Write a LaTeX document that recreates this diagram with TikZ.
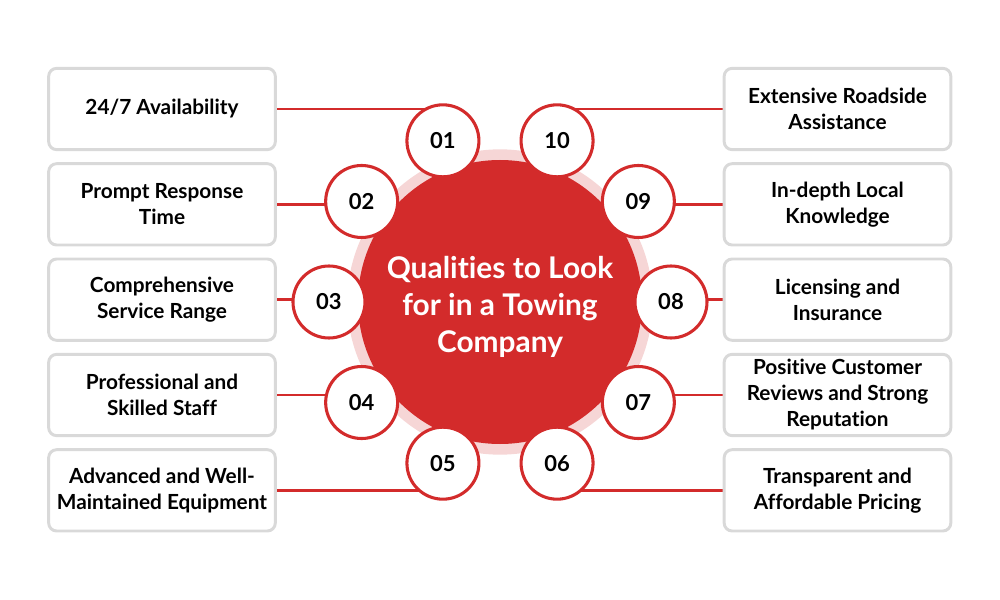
\documentclass[tikz,border=0pt]{standalone}
\usepackage{fontspec}
\setmainfont{Lato}[Ligatures=CommonOff]
\usepackage{xcolor}
\usetikzlibrary{positioning,backgrounds}

\definecolor{towred}{HTML}{D32B2B}
\definecolor{towpink}{HTML}{F6D6D6}
\definecolor{boxgray}{HTML}{D9D9D9}

\begin{document}
\begin{tikzpicture}[
    x=0.75pt, y=0.75pt,
    node distance=8.3pt,
    quality/.style={rectangle, draw=boxgray, fill=white, line width=2.2pt, rounded corners=6pt, minimum width=170pt, minimum height=61pt, align=center, font=\bfseries\fontsize{15.6}{19.5}\selectfont},
    number/.style={circle, draw=towred, fill=white, line width=2.3pt, minimum size=54pt, inner sep=0pt, font=\bfseries\fontsize{16.5}{20}\selectfont},
    halo/.style={circle, fill=towpink, minimum size=229pt},
    hub/.style={circle, fill=towred, minimum size=213pt},
    title/.style={text=white, align=center, font=\bfseries\fontsize{22.4}{28}\selectfont},
    link/.style={draw=towred, line width=2.2pt}
]
    \useasboundingbox (-500,-298) rectangle (500,302);

    % Centre
    \node[halo] (ring) at (0,0) {};
    \node[hub] (hub) at (0,0) {};
    \node[title] (heading) at (0,-5) {Qualities to Look\\for in a Towing\\Company};

    % Numbers round the centre
    \foreach \n/\t/\a in {1/01/109.5, 2/02/144, 3/03/180, 4/04/216, 5/05/250.5,
                          6/06/289.5, 7/07/324, 8/08/0, 9/09/36, 10/10/70.5}
        \node[number] (N\n) at (\a:171) {\t};

    % Left column
    \node[quality] (L1) at (-338,193) {24/7 Availability};
    \node[quality, below=of L1] (L2) {Prompt Response\\Time};
    \node[quality, below=of L2] (L3) {Comprehensive\\Service Range};
    \node[quality, below=of L3] (L4) {Professional and\\Skilled Staff};
    \node[quality, below=of L4] (L5) {Advanced and Well-\\Maintained Equipment};

    % Right column
    \node[quality] (R1) at (337.5,193) {Extensive Roadside\\Assistance};
    \node[quality, below=of R1] (R2) {In-depth Local\\Knowledge};
    \node[quality, below=of R2] (R3) {Licensing and\\Insurance};
    \node[quality, below=of R3] (R4) {Positive Customer\\Reviews and Strong\\Reputation};
    \node[quality, below=of R4] (R5) {Transparent and\\Affordable Pricing};

    % Links
    \begin{scope}[on background layer]
        \foreach \i in {1,...,5}
            \draw[link] (L\i.east) -- (L\i.east -| N\i.center);
        \foreach \i/\n in {1/10, 2/9, 3/8, 4/7, 5/6}
            \draw[link] (R\i.west) -- (R\i.west -| N\n.center);
    \end{scope}
\end{tikzpicture}
\end{document}
